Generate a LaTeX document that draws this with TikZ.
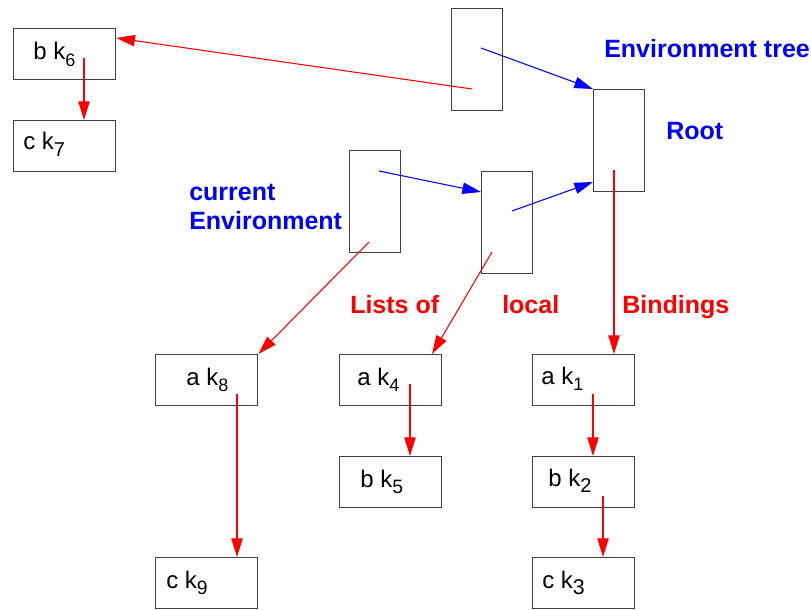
\documentclass[tikz,border=0pt]{standalone}
\usepackage{fontspec}
\setmainfont{Liberation Sans}
\usetikzlibrary{arrows.meta,calc}
\newcommand{\ksub}[2][13.5]{k\raisebox{-4.8pt}{\fontsize{#1}{#1}\selectfont #2}}
\begin{document}
\begin{tikzpicture}[x=0.75pt,y=-0.75pt,
  box/.style={draw=black!75, line width=1pt, inner sep=0, minimum width=76.5pt, minimum height=38.25pt, anchor=north west},
  envbox/.style={draw=black!75, line width=1pt, inner sep=0, minimum width=38.25pt, minimum height=76.5pt, anchor=north west},
  lbl/.style={inner sep=0, anchor=base west, font=\fontsize{18}{21}\selectfont},
  blbl/.style={inner sep=0, anchor=base west, font=\fontsize{18.75}{22}\selectfont\bfseries},
  ra/.style={red, line width=0.8pt, -{Triangle[length=14pt,width=8.5pt]}},
  ba/.style={blue, line width=0.8pt, -{Triangle[length=14pt,width=8.5pt]}}]
\useasboundingbox (0,0) rectangle (811,610);
% boxes
\node[box] (bk6) at (13,28) {};
\node[box] (ck7) at (13,120) {};
\node[envbox] (e1) at (451,8) {};
\node[envbox] (root) at (593,89) {};
\node[envbox] (cur) at (349,150) {};
\node[envbox] (e2) at (481,171) {};
\node[box] (ak8) at (155,354) {};
\node[box] (ak4) at (339,354) {};
\node[box] (ak1) at (532,354) {};
\node[box] (bk5) at (339,456) {};
\node[box] (bk2) at (532,456) {};
\node[box] (ck9) at (155,557) {};
\node[box] (ck3) at (532,557) {};
% box texts
\node[lbl] (tbk6) at (33,60) {b \ksub{6}};
\node[lbl] (tck7) at (23,150) {c \ksub[15]{7}};
\node[lbl] (tak8) at (186,385) {a \ksub{8}};
\node[lbl] (tak4) at (357,385) {a \ksub{4}};
\node[lbl] (tbk5) at (360,487) {b \ksub[14.5]{5}};
\node[lbl] (tck9) at (166,588) {c \ksub[14.5]{9}};
\node[lbl] (tak1) at (541,384) {a \ksub{1}};
\node[lbl] (tbk2) at (548,486) {b \ksub[15]{2}};
\node[lbl] (tck3) at (542,588) {c \ksub[16]{3}};
% labels
\node[blbl, blue] (lenv) at (604,58) {Environment tree};
\node[blbl, blue] (lroot) at (666,139) {Root};
\node[blbl, blue] (lcur1) at (189,200) {current};
\node[blbl, blue] (lcur2) at (189,229) {Environment};
\node[blbl, red] (llist) at (350,313) {Lists of};
\node[blbl, red] (llocal) at (502,313) {local};
\node[blbl, red] (lbind) at (622,313) {Bindings};
% connectors
\coordinate (s1) at (472,89);
\draw[ra] (s1) -- ($(bk6.north east)+(0,10)$);
\coordinate (s2) at (481,48);
\draw[ba] (s2) -- (root.north west);
\coordinate (s3) at (379,171);
\draw[ba] (s3) -- ($(e2.north west)+(0,21)$);
\coordinate (s4) at (512,211);
\draw[ba] (s4) -- ($(root.north west)+(0,93)$);
\coordinate (s5) at (614,170);
\draw[ra] (s5) -- (s5 |- ak1.north);
\coordinate (s6) at (369,242);
\draw[ra] (s6) -- (ak8.north east);
\coordinate (s7) at (492,252);
\draw[ra] (s7) -- ($(ak4.north west)+(93,0)$);
\coordinate (s8) at (84,58);
\draw[ra] (s8) -- (s8 |- ck7.north);
\coordinate (s9) at (237,394);
\draw[ra] (s9) -- (s9 |- ck9.north);
\coordinate (s10) at (410,384);
\draw[ra] (s10) -- (s10 |- bk5.north);
\coordinate (s11) at (593,394);
\draw[ra] (s11) -- (s11 |- bk2.north);
\coordinate (s12) at (603,496);
\draw[ra] (s12) -- (s12 |- ck3.north);
\end{tikzpicture}
\end{document}
